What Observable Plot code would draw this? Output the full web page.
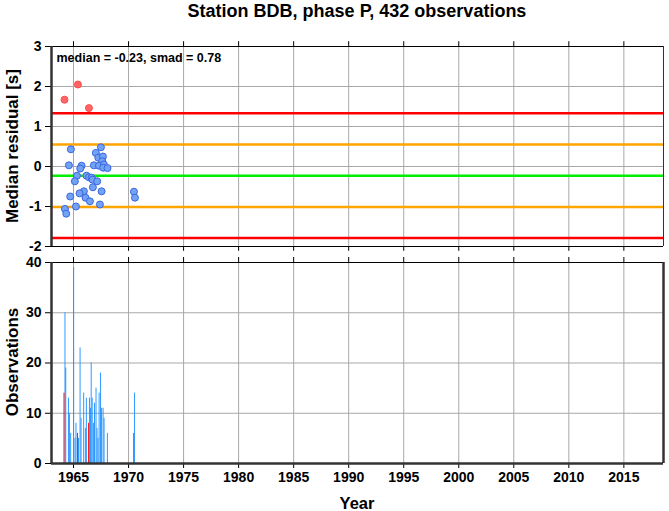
<!DOCTYPE html>
<html>
<head>
<meta charset="utf-8">
<script src="https://cdn.jsdelivr.net/npm/d3@7"></script>
<script src="https://cdn.jsdelivr.net/npm/@observablehq/plot@0.6"></script>
<style>
  html, body { margin: 0; padding: 0; background: #fff; }
  #wrap { position: relative; width: 669px; height: 511px; font-family: "Liberation Sans", Arial, sans-serif; }
  .abs { position: absolute; }
  .title { left: 51px; width: 612px; top: 1px; text-align: center; font-weight: bold; font-size: 18px; }
  .ylab { font-weight: bold; font-size: 17px; white-space: nowrap; transform: translate(-50%, -50%) rotate(-90deg); }
  .xlab { font-weight: bold; font-size: 16.5px; transform: translate(-50%, -50%); }
</style>
</head>
<body>
<div id="wrap">
  <div class="abs title">Station BDB, phase P, 432 observations</div>
  <div id="top" class="abs" style="left:0;top:0"></div>
  <div id="bottom" class="abs" style="left:0;top:255px"></div>
  <div class="abs ylab" style="left:13px;top:146px">Median residual [s]</div>
  <div class="abs ylab" style="left:13px;top:362px">Observations</div>
  <div class="abs xlab" style="left:357px;top:503px">Year</div>
</div>
<script>
// ---- data ----
const xDomain = [1963, 2018.6];
const yearTicks = [1965, 1970, 1975, 1980, 1985, 1990, 1995, 2000, 2005, 2010, 2015];
const residualTicks = [-2, -1, 0, 1, 2, 3];
const countTicks = [0, 10, 20, 30, 40];

const median = -0.23;
const smad = 0.78;

// median residuals (blue = within bounds, red = outliers)
const blueYears = [1964.76, 1967.49, 1967.03, 1967.25, 1967.67, 1967.61, 1966.85, 1967.31, 1967.76, 1967.70,
  1968.09, 1964.58, 1965.73, 1965.61, 1965.31, 1965.12, 1966.18, 1966.40, 1966.64, 1966.73,
  1967.15, 1966.76, 1967.55, 1965.94, 1965.55, 1966.09, 1966.49, 1964.70, 1967.40, 1964.22,
  1964.34, 1965.22, 1970.49, 1970.58];
const blueValues = [0.43, 0.48, 0.34, 0.22, 0.25, 0.13, 0.03, 0.02, 0.05, -0.03,
  -0.04, 0.03, 0.02, -0.05, -0.23, -0.37, -0.23, -0.27, -0.28, -0.33,
  -0.37, -0.52, -0.62, -0.62, -0.67, -0.78, -0.87, -0.75, -0.95, -1.06,
  -1.18, -1.0, -0.63, -0.78];
const redYears = [1964.18, 1965.40, 1966.40];
const redValues = [1.67, 2.05, 1.46];

// observations per month
const barYears = [1964.27, 1964.34, 1964.58, 1964.67, 1964.79, 1965.06, 1965.18, 1965.27, 1965.50, 1965.64,
  1965.73, 1965.97, 1966.12, 1966.21, 1966.49, 1966.58, 1966.65, 1966.74, 1966.85, 1966.95,
  1967.09, 1967.18, 1967.27, 1967.37, 1967.49, 1967.58, 1967.73, 1967.82, 1968.12, 1970.49, 1970.58];
const barCounts = [30, 19, 13, 10, 6, 39, 5, 8, 5, 23,
  9, 14, 7, 13, 13, 11, 20, 13, 8, 12,
  15, 7, 5, 14, 18, 11, 11, 9, 6, 6, 14];
const redBarYears = [1964.18, 1965.40, 1966.40];
const redBarCounts = [14, 6, 8];

// ---- build tables ----
const blue = blueYears.map((y, i) => ({year: y, value: blueValues[i]}));
const red = redYears.map((y, i) => ({year: y, value: redValues[i]}));
const bars = barYears.map((y, i) => ({year: y, count: barCounts[i]}));
const redBars = redBarYears.map((y, i) => ({year: y, count: redBarCounts[i]}));
const limits = [
  {v: median + 2 * smad, c: "#ff0000"},
  {v: median - 2 * smad, c: "#ff0000"},
  {v: median + smad, c: "#ffa500"},
  {v: median - smad, c: "#ffa500"},
  {v: median, c: "#00ee00"}
];
const half = 1 / 24;
const fmt = d => String(d);
const baseStyle = {fontFamily: "Liberation Sans, Arial, sans-serif", fontSize: "14px", fontWeight: "bold", color: "#000", background: "transparent", overflow: "visible"};

const topPlot = Plot.plot({
  width: 669, height: 255,
  marginLeft: 51, marginRight: 6, marginTop: 46, marginBottom: 9,
  style: baseStyle,
  x: {type: "linear", domain: xDomain, axis: null},
  y: {type: "linear", domain: [-2, 3], ticks: residualTicks, tickSize: 6, tickPadding: 4, tickFormat: fmt, label: null},
  marks: [
    Plot.ruleX(yearTicks, {x: d => d, stroke: "#a8a8a8", strokeWidth: 1}),
    Plot.ruleY(residualTicks, {y: d => d, stroke: "#a8a8a8", strokeWidth: 1}),
    Plot.ruleY(limits, {y: "v", stroke: "c", strokeWidth: 2.5}),
    Plot.dot(red, {x: "year", y: "value", r: 3.5, fill: "#ff6666", stroke: "#ff4c4c", strokeWidth: 1}),
    Plot.dot(blue, {x: "year", y: "value", r: 3.5, fill: "#72a2f4", stroke: "#3a66e0", strokeWidth: 1}),
    Plot.ruleY([3, -2], {y: d => d, stroke: "#000", strokeWidth: 1}),
    Plot.ruleX(yearTicks, {x: d => d, y1: 3, y2: 3.12, stroke: "#000", strokeWidth: 1}),
    Plot.ruleX(yearTicks, {x: d => d, y1: -2, y2: -2.12, stroke: "#000", strokeWidth: 1}),
    Plot.ruleX([xDomain[1]], {x: d => d, stroke: "#333", strokeWidth: 1}),
    Plot.ruleX([xDomain[0]], {x: d => d, stroke: "#333", strokeWidth: 2.5}),
    Plot.text(["median = -0.23, smad = 0.78"], {frameAnchor: "top-left", dx: 5, dy: 7, fontSize: 12.5, fontWeight: "bold", fill: "#000"})
  ]
});
document.getElementById("top").appendChild(topPlot);

const bottomPlot = Plot.plot({
  width: 669, height: 256,
  marginLeft: 51, marginRight: 6, marginTop: 7, marginBottom: 48,
  style: baseStyle,
  x: {type: "linear", domain: xDomain, ticks: yearTicks, tickSize: 5, tickPadding: 4, tickFormat: fmt, label: null},
  y: {type: "linear", domain: [0, 40], ticks: countTicks, tickSize: 6, tickPadding: 4, tickFormat: fmt, label: null},
  marks: [
    Plot.ruleX(yearTicks, {x: d => d, stroke: "#a8a8a8", strokeWidth: 1}),
    Plot.ruleY(countTicks, {y: d => d, stroke: "#a8a8a8", strokeWidth: 1}),
    Plot.rectY(bars, {x1: d => d.year - half, x2: d => d.year + half, y: "count", fill: "#1e90ff"}),
    Plot.rectY(redBars, {x1: d => d.year - half, x2: d => d.year + half, y: "count", fill: "#ff0000"}),
    Plot.ruleY([40], {y: d => d, stroke: "#000", strokeWidth: 1}),
    Plot.ruleX(yearTicks, {x: d => d, y1: 40, y2: 41, stroke: "#000", strokeWidth: 1}),
    Plot.ruleY([0], {y: d => d, stroke: "#333", strokeWidth: 2.5}),
    Plot.ruleX(xDomain, {x: d => d, stroke: "#333", strokeWidth: 2.5})
  ]
});
document.getElementById("bottom").appendChild(bottomPlot);
</script>
</body>
</html>
